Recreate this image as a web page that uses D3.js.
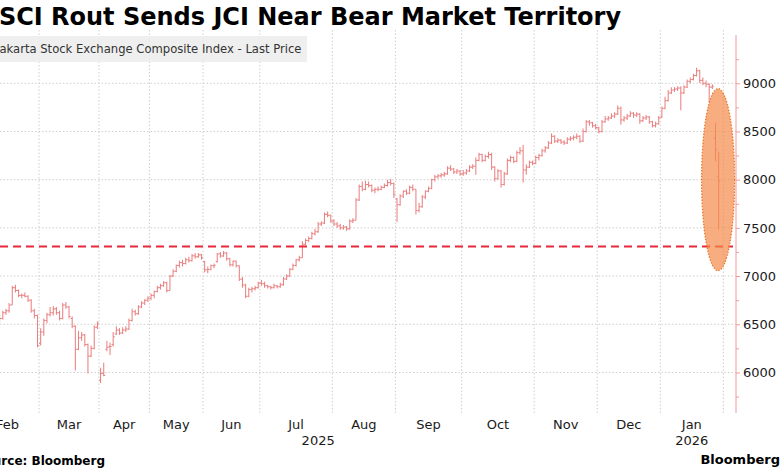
<!DOCTYPE html>
<html>
<head>
<meta charset="utf-8">
<script src="https://cdn.jsdelivr.net/npm/d3@7"></script>
<style>
  body { margin: 0; background: #fff; }
  svg { display: block; font-family: "DejaVu Sans", sans-serif; }
</style>
</head>
<body>
<div id="chart"></div>
<script>
// Trading-day calendar, Feb 2025 -> Jan 2026
const monthLabels = ["Feb", "Mar", "Apr", "May", "Jun", "Jul", "Aug", "Sep", "Oct", "Nov", "Dec", "Jan"];
const monthDays   = [20, 19, 16, 17, 18, 23, 20, 21, 23, 20, 20, 20];
const monthYears  = ["2025", "2025", "2025", "2025", "2025", "2025", "2025", "2025", "2025", "2025", "2025", "2026"];
const totalBands  = 241;   // axis runs a few sessions past the last bar

// y axis
const yTicks = [6000, 6500, 7000, 7500, 8000, 8500, 9000];
const yMinorTicks = [5750, 6250, 6750, 7250, 7750, 8250, 8750, 9250];
const bearLevel = 7307;   // 20% below the January record

// daily bars [open, high, low, close]
const feb25 = [
  [7100, 7110, 6990, 7030], [7030, 7090, 7000, 7073], [7073, 7090, 7010, 7043], [7043, 7050, 6860, 6875],
  [6875, 6890, 6730, 6742], [6742, 6760, 6630, 6648], [6648, 6660, 6510, 6532], [6532, 6600, 6520, 6560],
  [6560, 6640, 6550, 6620], [6620, 6660, 6600, 6640], [6640, 6720, 6620, 6700], [6700, 6900, 6700, 6880],
  [6880, 6910, 6830, 6850], [6850, 6860, 6780, 6800], [6800, 6820, 6770, 6800], [6800, 6830, 6780, 6790],
  [6790, 6800, 6730, 6750], [6750, 6760, 6620, 6640], [6640, 6660, 6560, 6590], [6590, 6600, 6260, 6280]
];
const mar25 = [
  [6300, 6460, 6280, 6420], [6420, 6560, 6380, 6540], [6540, 6620, 6510, 6600], [6600, 6680, 6580, 6620],
  [6620, 6690, 6590, 6660], [6660, 6680, 6600, 6620], [6620, 6640, 6540, 6560], [6560, 6720, 6550, 6700],
  [6700, 6730, 6660, 6680], [6680, 6690, 6560, 6580], [6560, 6580, 6460, 6480], [6480, 6490, 6020, 6240],
  [6240, 6430, 6230, 6360], [6360, 6420, 6330, 6390], [6390, 6400, 6270, 6290], [6290, 6300, 5990, 6170],
  [6170, 6280, 6160, 6250], [6250, 6490, 6240, 6470], [6470, 6530, 6450, 6510]
];
const apr25 = [
  [5920, 6050, 5890, 5990], [5990, 6100, 5960, 5970], [6240, 6330, 6220, 6260], [6270, 6310, 6180, 6270],
  [6290, 6420, 6270, 6370], [6400, 6480, 6390, 6440], [6440, 6460, 6390, 6410], [6410, 6470, 6400, 6440],
  [6440, 6480, 6420, 6450], [6450, 6560, 6440, 6540], [6540, 6660, 6530, 6630], [6630, 6650, 6590, 6610],
  [6610, 6700, 6600, 6680], [6680, 6740, 6670, 6720], [6720, 6760, 6700, 6750], [6750, 6790, 6730, 6770]
];
const may25 = [
  [6770, 6820, 6750, 6800], [6800, 6850, 6770, 6840], [6840, 6900, 6830, 6880], [6880, 6920, 6860, 6900],
  [6900, 6950, 6890, 6930], [6930, 6940, 6830, 6850], [6850, 7010, 6850, 7000], [7000, 7070, 6990, 7050],
  [7050, 7120, 7040, 7110], [7110, 7160, 7090, 7140], [7140, 7170, 7100, 7130], [7130, 7190, 7120, 7170],
  [7170, 7200, 7140, 7160], [7160, 7230, 7150, 7210], [7210, 7240, 7180, 7200], [7200, 7240, 7190, 7220],
  [7220, 7230, 7170, 7190]
];
const jun25 = [
  [7150, 7160, 7040, 7065], [7065, 7100, 7030, 7069], [7069, 7120, 7060, 7108], [7108, 7130, 7080, 7113],
  [7150, 7240, 7140, 7230], [7230, 7250, 7190, 7208], [7208, 7260, 7200, 7240], [7240, 7250, 7160, 7180],
  [7180, 7190, 7100, 7117], [7117, 7160, 7100, 7155], [7155, 7160, 7090, 7107], [7107, 7110, 6950, 6968],
  [6968, 6990, 6880, 6907], [6907, 6920, 6770, 6790], [6790, 6880, 6780, 6860], [6860, 6890, 6830, 6869],
  [6869, 6900, 6850, 6880], [6880, 6940, 6870, 6927]
];
const jul25 = [
  [6927, 6960, 6900, 6920], [6920, 6940, 6880, 6900], [6900, 6910, 6870, 6890], [6890, 6900, 6860, 6880],
  [6880, 6920, 6870, 6900], [6900, 6910, 6870, 6890], [6890, 6930, 6880, 6910], [6910, 6990, 6900, 6970],
  [6970, 7020, 6960, 7000], [7000, 7080, 6990, 7070], [7070, 7130, 7060, 7110], [7110, 7180, 7100, 7170],
  [7170, 7210, 7150, 7190], [7190, 7360, 7190, 7330], [7330, 7390, 7320, 7370], [7370, 7410, 7350, 7390],
  [7390, 7460, 7380, 7440], [7440, 7490, 7420, 7460], [7460, 7560, 7450, 7540], [7540, 7570, 7520, 7550],
  [7550, 7660, 7540, 7640], [7640, 7670, 7610, 7630], [7630, 7640, 7550, 7570]
];
const aug25 = [
  [7570, 7590, 7520, 7540], [7540, 7560, 7500, 7520], [7520, 7540, 7480, 7500], [7500, 7530, 7480, 7510],
  [7510, 7520, 7470, 7490], [7490, 7590, 7480, 7570], [7570, 7600, 7550, 7580], [7580, 7810, 7580, 7790],
  [7790, 7950, 7780, 7930], [7930, 7980, 7880, 7900], [7900, 7990, 7890, 7950], [7950, 7980, 7920, 7940],
  [7940, 7950, 7870, 7890], [7890, 7920, 7860, 7900], [7900, 7930, 7880, 7900], [7900, 7940, 7890, 7920],
  [7920, 7960, 7910, 7940], [7940, 8000, 7930, 7970], [7970, 8010, 7940, 7960], [7960, 7970, 7810, 7850]
];
const sep25 = [
  [7800, 7810, 7560, 7740], [7740, 7850, 7730, 7830], [7830, 7890, 7810, 7880], [7880, 7900, 7840, 7860],
  [7860, 7940, 7850, 7920], [7920, 7950, 7880, 7900], [7900, 7900, 7640, 7680], [7680, 7760, 7660, 7720],
  [7720, 7840, 7710, 7820], [7820, 7890, 7800, 7880], [7880, 7930, 7870, 7910], [7910, 8010, 7900, 8000],
  [8000, 8050, 7980, 8030], [8030, 8060, 8010, 8040], [8040, 8070, 8020, 8050], [8050, 8080, 8030, 8060],
  [8060, 8140, 8050, 8120], [8120, 8150, 8090, 8110], [8110, 8120, 8060, 8080], [8080, 8110, 8060, 8090],
  [8090, 8100, 8040, 8060]
];
const oct25 = [
  [8060, 8100, 8040, 8070], [8070, 8110, 8050, 8090], [8090, 8150, 8080, 8130], [8130, 8160, 8110, 8140],
  [8140, 8230, 8050, 8200], [8200, 8280, 8190, 8260], [8260, 8270, 8180, 8200], [8200, 8260, 8190, 8240],
  [8240, 8290, 8220, 8260], [8260, 8280, 8100, 8130], [8130, 8140, 7980, 8010], [8010, 8110, 8000, 8090],
  [8090, 8100, 7920, 7950], [7950, 8080, 7940, 8060], [8060, 8220, 8050, 8200], [8200, 8250, 8180, 8230],
  [8230, 8240, 8170, 8190], [8190, 8300, 8180, 8280], [8280, 8340, 8260, 8300], [8300, 8360, 7970, 8100],
  [8100, 8160, 8050, 8130], [8130, 8200, 8120, 8180], [8180, 8200, 8150, 8170]
];
const nov25 = [
  [8170, 8250, 8160, 8230], [8230, 8270, 8200, 8250], [8250, 8320, 8240, 8300], [8300, 8350, 8280, 8330],
  [8330, 8400, 8320, 8380], [8380, 8480, 8370, 8450], [8450, 8460, 8380, 8400], [8400, 8430, 8380, 8410],
  [8410, 8420, 8370, 8390], [8390, 8410, 8360, 8380], [8380, 8440, 8370, 8420], [8420, 8450, 8400, 8430],
  [8430, 8460, 8410, 8440], [8440, 8480, 8420, 8450], [8450, 8460, 8380, 8400], [8400, 8530, 8390, 8500],
  [8500, 8620, 8490, 8600], [8600, 8620, 8560, 8590], [8590, 8600, 8540, 8560], [8560, 8580, 8520, 8540]
];
const dec25 = [
  [8540, 8550, 8480, 8500], [8500, 8620, 8490, 8600], [8600, 8660, 8590, 8630], [8630, 8660, 8610, 8640],
  [8640, 8690, 8630, 8660], [8660, 8700, 8640, 8680], [8680, 8770, 8670, 8740], [8740, 8760, 8570, 8620],
  [8620, 8660, 8600, 8640], [8640, 8680, 8620, 8660], [8660, 8710, 8650, 8690], [8690, 8700, 8640, 8670],
  [8670, 8700, 8650, 8680], [8680, 8690, 8580, 8610], [8610, 8660, 8600, 8640], [8640, 8670, 8620, 8650],
  [8650, 8660, 8580, 8600], [8600, 8610, 8540, 8560], [8560, 8600, 8540, 8580], [8580, 8660, 8570, 8640]
];
const jan26 = [
  [8650, 8760, 8640, 8740], [8740, 8860, 8730, 8820], [8820, 8930, 8810, 8900], [8900, 8960, 8890, 8930],
  [8930, 8960, 8910, 8940], [8940, 8970, 8920, 8950], [8950, 8970, 8720, 8900], [8900, 8980, 8890, 8960],
  [8960, 9040, 8950, 9020], [9020, 9060, 9000, 9040], [9040, 9100, 9030, 9080], [9080, 9160, 9070, 9130],
  [9130, 9140, 9000, 9030], [9030, 9060, 8980, 9000], [9000, 9030, 8960, 8990], [8990, 9000, 8800, 8960],
  [8960, 8990, 8940, 8970], [8430, 8590, 8190, 8310], [8030, 8290, 7480, 7990]
];
const monthBars = [feb25, mar25, apr25, may25, jun25, jul25, aug25, sep25, oct25, nov25, dec25, jan26];

const width = 780, height = 470;
const plotTop = 35, plotBottom = 413, plotRight = 736;

// flatten into one list of sessions with a running index
const bars = [];
const monthStarts = [];
let idx = 0;
monthBars.forEach((month, m) => {
  monthStarts.push(idx);
  month.forEach((b, j) => bars.push({ i: idx + j, open: b[0], high: b[1], low: b[2], close: b[3] }));
  idx += monthDays[m];
});

const svg = d3.select("#chart").append("svg")
  .attr("width", width)
  .attr("height", height)
  .attr("viewBox", [0, 0, width, height]);

const xScale = d3.scaleBand()
  .domain(d3.range(totalBands))
  .range([-24, plotRight])
  .padding(0);

const yScale = d3.scaleLinear()
  .domain([5590, 9480])
  .range([412, 37]);

const cx = i => xScale(i) + xScale.bandwidth() / 2;

/*******************************/
/*          Gridlines          */
/*******************************/
svg.append("g")
  .selectAll("line")
  .data(monthStarts.slice(1).concat([idx]))
  .join("line")
    .attr("x1", d => xScale(d) ?? plotRight)
    .attr("x2", d => xScale(d) ?? plotRight)
    .attr("y1", plotTop - 5)
    .attr("y2", plotBottom)
    .attr("stroke", "#cfcfcf")
    .attr("stroke-width", 1)
    .attr("stroke-dasharray", "1.5,2");

svg.append("g")
  .selectAll("line")
  .data(yTicks)
  .join("line")
    .attr("x1", 0)
    .attr("x2", plotRight)
    .attr("y1", d => yScale(d))
    .attr("y2", d => yScale(d))
    .attr("stroke", "#cfcfcf")
    .attr("stroke-width", 1)
    .attr("stroke-dasharray", "1.5,2");

/*******************************/
/*     Title and legend box    */
/*******************************/
// the left edge of the original is cropped, so the first letter sits off-canvas
svg.append("text")
  .attr("x", -25)
  .attr("y", 25)
  .attr("font-size", 24)
  .attr("font-weight", "bold")
  .attr("fill", "#000")
  .text("MSCI Rout Sends JCI Near Bear Market Territory");

svg.append("rect")
  .attr("x", -20)
  .attr("y", 36)
  .attr("width", 327)
  .attr("height", 26)
  .attr("fill", "#ececec")
  .attr("fill-opacity", 0.85);

svg.append("text")
  .attr("x", -4)
  .attr("y", 53)
  .attr("font-size", 11.6)
  .attr("fill", "#333")
  .text("Jakarta Stock Exchange Composite Index - Last Price");

/*******************************/
/*          OHLC bars          */
/*******************************/
const barColor = "#ea8282";
const half = xScale.bandwidth() / 2;
const gBars = svg.append("g")
  .attr("stroke", barColor)
  .attr("stroke-width", 1.05);

gBars.selectAll(".hl")
  .data(bars)
  .join("line")
    .attr("class", "hl")
    .attr("x1", d => cx(d.i))
    .attr("x2", d => cx(d.i))
    .attr("y1", d => yScale(d.high))
    .attr("y2", d => yScale(d.low));

gBars.selectAll(".op")
  .data(bars)
  .join("line")
    .attr("class", "op")
    .attr("x1", d => cx(d.i) - half)
    .attr("x2", d => cx(d.i))
    .attr("y1", d => yScale(d.open))
    .attr("y2", d => yScale(d.open));

gBars.selectAll(".cl")
  .data(bars)
  .join("line")
    .attr("class", "cl")
    .attr("x1", d => cx(d.i))
    .attr("x2", d => cx(d.i) + half)
    .attr("y1", d => yScale(d.close))
    .attr("y2", d => yScale(d.close));

// bear market threshold
svg.append("line")
  .attr("x1", 0)
  .attr("x2", plotRight - 3)
  .attr("y1", yScale(bearLevel))
  .attr("y2", yScale(bearLevel))
  .attr("stroke", "#e8283a")
  .attr("stroke-width", 2)
  .attr("stroke-dasharray", "8,5");

// highlight around the last two sessions
const lastTwo = bars.slice(-2);
const ellCx = (cx(lastTwo[0].i) + cx(lastTwo[1].i)) / 2;
svg.append("ellipse")
  .attr("cx", ellCx + 1)
  .attr("cy", yScale(8000))
  .attr("rx", 16.5)
  .attr("ry", 91)
  .attr("fill", "#f48a48")
  .attr("fill-opacity", 0.7)
  .attr("stroke", "#ea7a2c")
  .attr("stroke-width", 1.3)
  .attr("stroke-dasharray", "1.5,1.5");

/*******************************/
/*          Right axis         */
/*******************************/
const axisColor = "#f29a9a";
const yAxis = svg.append("g")
  .attr("transform", `translate(${plotRight}, 0)`)
  .call(d3.axisRight(yScale)
    .tickValues(yTicks)
    .tickSize(4)
    .tickPadding(3)
    .tickFormat(d3.format("d"))
  );
yAxis.select(".domain").attr("stroke", axisColor).attr("d", `M0,${plotTop}V${plotBottom}`);
yAxis.selectAll(".tick line").attr("stroke", axisColor);
yAxis.selectAll(".tick text")
  .attr("font-size", 13)
  .attr("font-family", "DejaVu Sans, sans-serif")
  .attr("fill", "#1a1a1a");

svg.append("g")
  .attr("transform", `translate(${plotRight}, 0)`)
  .call(d3.axisRight(yScale).tickValues(yMinorTicks).tickSize(3).tickFormat(""))
  .call(g => g.select(".domain").remove())
  .call(g => g.selectAll(".tick line").attr("stroke", axisColor));

/*******************************/
/*          Month axis         */
/*******************************/
const monthCenters = monthStarts.map((s, m) => {
  const x0 = xScale(s);
  const x1 = Math.min(xScale(s + monthDays[m]) ?? plotRight, plotRight);
  return (x0 + x1) / 2;
});

svg.append("g")
  .selectAll("text")
  .data(monthLabels)
  .join("text")
    .attr("x", (d, m) => monthCenters[m])
    .attr("y", 429)
    .attr("text-anchor", "middle")
    .attr("font-size", 13)
    .attr("fill", "#1a1a1a")
    .text(d => d);

const years = Array.from(new Set(monthYears));
const yearCenters = years.map(yr => {
  const ms = monthYears.map((y, m) => y === yr ? m : -1).filter(m => m >= 0);
  const x0 = xScale(monthStarts[ms[0]]);
  const lastM = ms[ms.length - 1];
  const x1 = Math.min(xScale(monthStarts[lastM] + monthDays[lastM]) ?? plotRight, plotRight);
  return (x0 + x1) / 2;
});

svg.append("g")
  .selectAll("text")
  .data(years)
  .join("text")
    .attr("x", (d, k) => yearCenters[k])
    .attr("y", 445)
    .attr("text-anchor", "middle")
    .attr("font-size", 13)
    .attr("fill", "#1a1a1a")
    .text(d => d);

/*******************************/
/*           Footer            */
/*******************************/
svg.append("text")
  .attr("x", 105)
  .attr("y", 465)
  .attr("text-anchor", "end")
  .attr("font-size", 12)
  .attr("font-weight", "bold")
  .attr("fill", "#000")
  .text("Source: Bloomberg");

svg.append("text")
  .attr("x", 780)
  .attr("y", 464)
  .attr("text-anchor", "end")
  .attr("font-size", 13)
  .attr("font-weight", "bold")
  .attr("fill", "#000")
  .text("Bloomberg");
</script>
</body>
</html>
